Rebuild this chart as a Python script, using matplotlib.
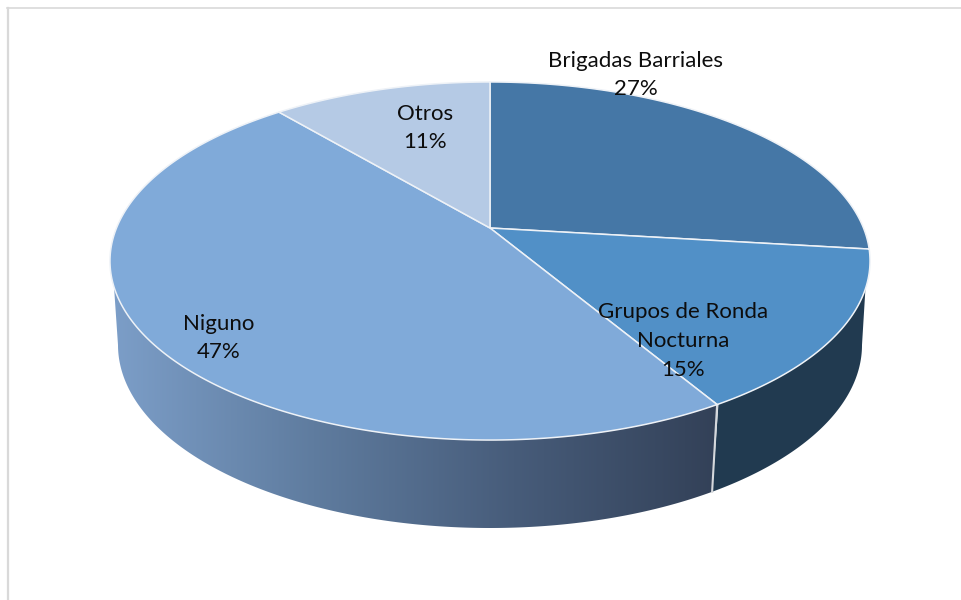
import matplotlib
matplotlib.use("Agg")
import matplotlib.pyplot as plt
from matplotlib.colors import LinearSegmentedColormap
from matplotlib.patches import Polygon
import numpy as np

categories = ["Brigadas Barriales", "Grupos de Ronda\nNocturna", "Niguno", "Otros"]
values = [26.9, 14.55, 47.4, 11.15]
colors = ["#4577a6", "#5190c7", "#80aad9", "#b5cae5"]
label_pos = [(636, 75), (683, 341), (219, 338), (425, 128)]

# tilted disc: clockwise angle from the top of the pie to pixels
APEX_X, APEX_Y = 490, 228
PERSP, SQUASH, HALF_W = 0.1844, -130.9, 373.5


def top_point(theta):
    u, v = np.sin(theta), np.cos(theta)
    w = 1 + PERSP * v
    return APEX_X + HALF_W * u / w, (APEX_Y + SQUASH * v) / w


def bottom_point(phi):
    return 490 + 372 * np.sin(phi), 345 - 183 * np.cos(phi)


fig = plt.figure(figsize=(9.61, 6), dpi=100)
ax = fig.add_axes([0, 0, 1, 1])
ax.axis("off")

ax.plot([7.5, 7.5], [600, 8], color="#d9d9d9", lw=1.6)
ax.plot([7, 961], [8.2, 8.2], color="#d9d9d9", lw=1.2)

shares = np.array(values) / sum(values)
edges = np.concatenate([[0], np.cumsum(shares)]) * 2 * np.pi
seam = edges[2]

# side wall
sweep = np.linspace(0, 2 * np.pi, 1441)
sx, sy = top_point(sweep)
left = (sweep > np.pi) & (sy >= 287)
right = (sweep < np.pi) & (sy >= 288)
seam_mask = sweep <= seam
phi_seam = np.pi - np.arcsin((top_point(seam)[0] - 5 - 490) / 372)

wall_left = np.r_[
    np.c_[sx[(sweep >= seam) & (left | (sweep < np.pi))], sy[(sweep >= seam) & (left | (sweep < np.pi))]],
    np.c_[bottom_point(np.linspace(3 * np.pi / 2, phi_seam, 300))],
]
wall_right = np.r_[
    np.c_[sx[right & seam_mask], sy[right & seam_mask]],
    np.c_[bottom_point(np.linspace(phi_seam, np.pi / 2, 200))],
]

patch = Polygon(wall_left, closed=True, fc="none", ec="none")
ax.add_patch(patch)
side_cmap = LinearSegmentedColormap.from_list("side", ["#7c9ec8", "#5f7c9f", "#475c7a", "#334158"])
im = ax.imshow(np.linspace(0, 1, 256)[None, :], extent=[112, 716, 530, 280],
               aspect="auto", cmap=side_cmap, zorder=1)
im.set_clip_path(patch)
ax.add_patch(Polygon(wall_right, closed=True, fc="#213a50", ec="none", zorder=1))
sx0, sy0 = top_point(seam)
bx0, by0 = bottom_point(phi_seam)
ax.plot([sx0, bx0], [sy0, by0], color="#d5d8dc", lw=1.5, zorder=2)

# top face
for start, end, color in zip(edges[:-1], edges[1:], colors):
    th = np.linspace(start, end, 400)
    px, py = top_point(th)
    pts = np.r_[[[APEX_X, APEX_Y]], np.c_[px, py]]
    ax.add_patch(Polygon(pts, closed=True, fc=color, ec="#eef2f7", lw=1.1, zorder=3))

for cat, val, (x, y) in zip(categories, values, label_pos):
    ax.text(x, y, f"{cat}\n{round(val)}%", ha="center", va="center", family="Lato",
            fontsize=16, color="#0d0d0d", linespacing=1.55, zorder=4)

ax.set_xlim(0, 961)
ax.set_ylim(600, 0)
fig.savefig("out.png", dpi=100)
